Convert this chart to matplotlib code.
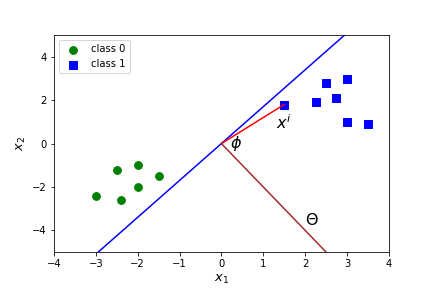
import numpy as np
import matplotlib
matplotlib.use('Agg')
import matplotlib.pyplot as plt

# class 0 / class 1 points
x0 = [-3.0, -2.5, -2.4, -2.0, -2.0, -1.5]
y0 = [-2.4, -1.2, -2.6, -1.0, -2.0, -1.5]
x1 = [1.5, 2.25, 2.5, 2.75, 3.0, 3.0, 3.5]
y1 = [1.8, 1.9, 2.8, 2.1, 3.0, 1.0, 0.9]

# decision boundary slope, sample vector, theta direction
slope = 1.7
xi = [1.5, 1.8]
theta = [2.5, -5.0]

fig = plt.figure(figsize=(6, 4), dpi=72)
plt.subplots_adjust(bottom=0.125, top=0.878)
plt.scatter(x0, y0, c='green', marker='o', s=60, label='class 0')
plt.scatter(x1, y1, c='blue', marker='s', s=60, label='class 1')

xs = np.array([-4, 4])
plt.plot(xs, slope * xs, color='blue')
plt.plot([0, xi[0]], [0, xi[1]], color='red')
plt.plot([0, theta[0]], [0, theta[1]], color='brown')

plt.text(0.2, -0.2, r'$\phi$', fontsize=16)
plt.text(1.3, 0.65, r'$x^i$', fontsize=16)
plt.text(2.0, -3.75, r'$\Theta$', fontsize=16)

plt.xlim(-4, 4)
plt.ylim(-5, 5)
plt.xlabel(r'$x_1$', fontsize=13)
plt.ylabel(r'$x_2$', fontsize=13)
plt.legend(loc='upper left')
plt.savefig('out.png', dpi=72)
